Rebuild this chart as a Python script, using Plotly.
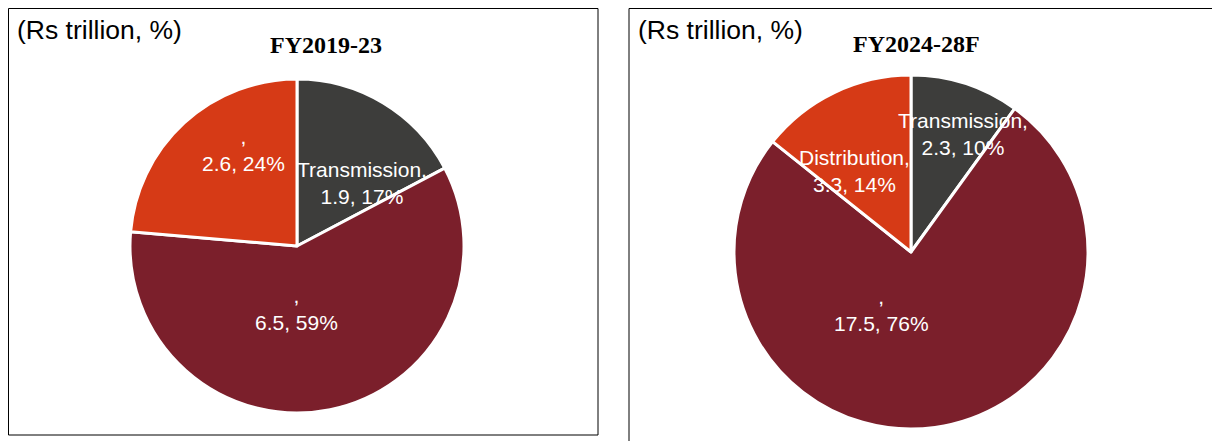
import math
import plotly.graph_objects as go

W, H = 1220, 441
OFF = 8  # browser body margin

segments = ["Transmission", "Generation", "Distribution"]
shown_names_1 = ["Transmission", "", ""]
shown_names_2 = ["Transmission", "", "Distribution"]
values_1 = [1.9, 6.5, 2.6]
values_2 = [2.3, 17.5, 3.3]
pct_1 = [17, 59, 24]
pct_2 = [10, 76, 14]
titles = ["FY2019-23", "FY2024-28F"]
unit_label = "(Rs trillion, %)"
colors = ["#3d3d3b", "#7b1f2b", "#d63a16"]

# label placement style: (radius fraction, angle shift in degrees) per slice
label_place_1 = [(0.54, 15), (0.38, 12), (0.66, 13.5)]
label_place_2 = [(0.73, 6), (0.37, 35), (0.56, -9)]

FONT = "Liberation Sans, Arial"


def fx(x):
    return (x - OFF) / W


def fy(y):
    return 1 - (y - OFF) / H


def px_domain(cx, cy, r):
    return dict(x=[fx(cx - r), fx(cx + r)], y=[fy(cy + r), fy(cy - r)])


fig = go.Figure()
annotations = []
for names, vals, pcts, place, (cx, cy, r) in [
    (shown_names_1, values_1, pct_1, label_place_1, (297, 246, 167)),
    (shown_names_2, values_2, pct_2, label_place_2, (911, 252, 177)),
]:
    fig.add_trace(go.Pie(
        labels=segments, values=vals, sort=False, direction="clockwise", rotation=0,
        textinfo="none",
        marker=dict(colors=colors, line=dict(color="white", width=3)),
        domain=px_domain(cx, cy, r), showlegend=False, hoverinfo="skip",
    ))
    total = sum(vals)
    cum = 0.0
    for n, v, p, (frac, dang) in zip(names, vals, pcts, place):
        mid = (cum + v / 2) / total * 360 + dang
        cum += v
        a = math.radians(mid)
        x = cx + frac * r * math.sin(a)
        y = cy - frac * r * math.cos(a)
        annotations.append(dict(x=fx(x), y=fy(y), xref="paper", yref="paper",
                                text=f"{n},<br>{v}, {p}%", showarrow=False,
                                xanchor="center", yanchor="middle", align="center",
                                font=dict(family=FONT, size=21, color="white")))

shapes = [
    dict(type="rect", xref="paper", yref="paper", x0=0.5 / W, x1=fx(598), y0=fy(435), y1=1 - 0.5 / H,
         line=dict(color="black", width=1)),
    dict(type="rect", xref="paper", yref="paper", x0=fx(629), x1=fx(1216), y0=-0.1, y1=1 - 0.5 / H,
         line=dict(color="black", width=1)),
]
for x0, tx, ty, title in [(15, 326, 45, titles[0]), (636, 916, 44, titles[1])]:
    annotations.append(dict(x=fx(x0), y=fy(30), xref="paper", yref="paper", text=unit_label,
                            showarrow=False, xanchor="left", yanchor="middle",
                            font=dict(family=FONT, size=26.5, color="black")))
    annotations.append(dict(x=fx(tx), y=fy(ty), xref="paper", yref="paper", text=f"<b>{title}</b>",
                            showarrow=False, xanchor="center", yanchor="middle",
                            font=dict(family="Liberation Serif, Times New Roman", size=24, color="black")))

fig.update_layout(width=W, height=H, margin=dict(l=0, r=0, t=0, b=0),
                  paper_bgcolor="white", plot_bgcolor="white",
                  shapes=shapes, annotations=annotations)
fig.write_html("out.html")
